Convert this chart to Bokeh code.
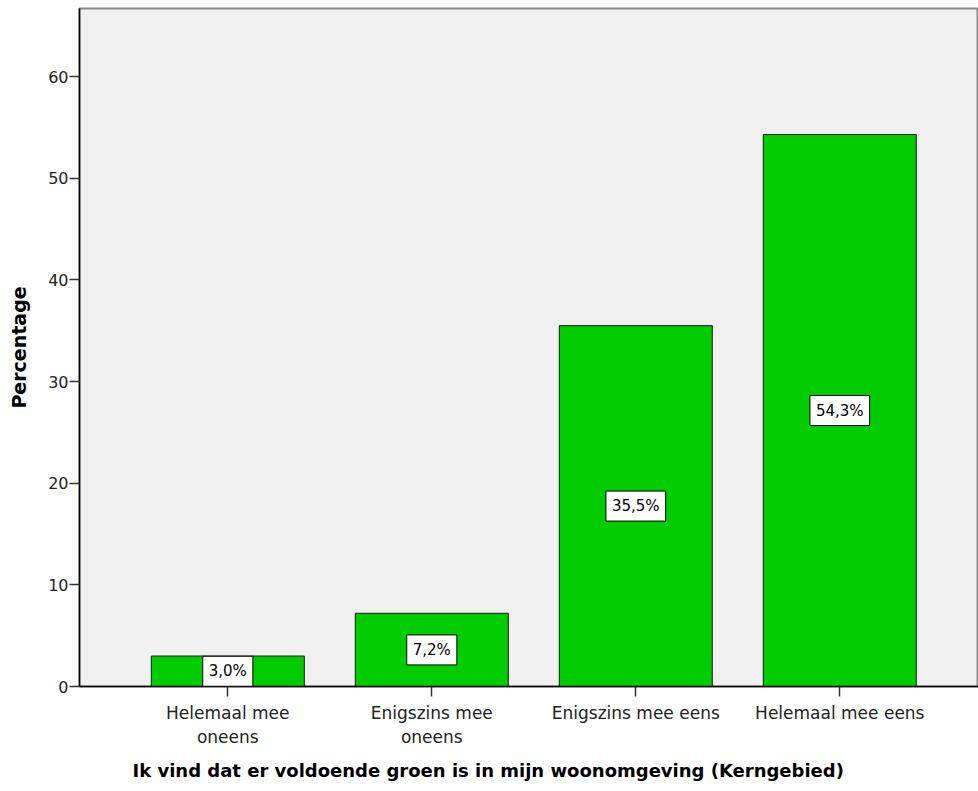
from bokeh.plotting import figure
from bokeh.models import Range1d, FixedTicker, Label, Title
from bokeh.embed import file_html
from bokeh.resources import INLINE

categories = ["Helemaal mee\noneens", "Enigszins mee\noneens", "Enigszins mee eens", "Helemaal mee eens"]
values = [3.0, 7.2, 35.5, 54.3]
labels = ["3,0%", "7,2%", "35,5%", "54,3%"]
y_ticks = [0, 10, 20, 30, 40, 50, 60]
x_title = "Ik vind dat er voldoende groen is in mijn woonomgeving (Kerngebied)"
y_title = "Percentage"

xs = list(range(len(categories)))

p = figure(width=978, height=791, output_backend="svg", toolbar_location=None,
           x_range=Range1d(-0.727, 3.68), y_range=Range1d(0, 66.7),
           min_border_left=79, min_border_right=0, min_border_top=8, min_border_bottom=105)

p.background_fill_color = "#F0F0F0"
p.border_fill_color = "white"
p.outline_line_color = "#888888"
p.outline_line_width = 2
p.xgrid.visible = False
p.ygrid.visible = False

p.vbar(x=xs, top=values, width=0.75, fill_color="#00CC00",
       line_color="#1a1a1a", line_width=1)

for xi, v, lab in zip(xs, values, labels):
    p.add_layout(Label(x=xi, y=v / 2, text=lab, text_align="center",
                       text_baseline="middle", text_font="DejaVu Sans", text_font_size="15px",
                       text_color="black", background_fill_color="white",
                       border_line_color="black", border_line_width=1, padding=6))

p.xaxis.ticker = FixedTicker(ticks=xs)
p.xaxis.major_label_overrides = {i: c for i, c in zip(xs, categories)}
p.yaxis.ticker = FixedTicker(ticks=y_ticks)
p.xaxis.minor_tick_line_color = None
p.yaxis.minor_tick_line_color = None

for ax in (p.xaxis, p.yaxis):
    ax.axis_line_color = "black"
    ax.axis_line_width = 1.5
    ax.major_tick_line_color = "#333333"
    ax.major_tick_line_width = 1.5
    ax.major_tick_out = 10
    ax.major_tick_in = 0
    ax.major_label_text_font = "DejaVu Sans"
    ax.major_label_text_color = "#222222"
    ax.axis_label_text_font = "DejaVu Sans"
    ax.axis_label_text_font_style = "bold"
    ax.axis_label_text_color = "black"

p.xaxis.major_label_text_font_size = "17px"
p.yaxis.major_label_text_font_size = "16px"
p.xaxis.major_label_standoff = 6

xt = Title(text=x_title, align="left", offset=53, text_font="DejaVu Sans",
           text_font_style="bold", text_font_size="18px", text_color="black",
           standoff=16, vertical_align="bottom")
p.add_layout(xt, "below")

p.yaxis.axis_label = y_title
p.yaxis.axis_label_text_font_size = "19px"
p.yaxis.axis_label_standoff = 15
p.yaxis.major_label_standoff = 1

open("out.html", "w").write(file_html(p, INLINE))
